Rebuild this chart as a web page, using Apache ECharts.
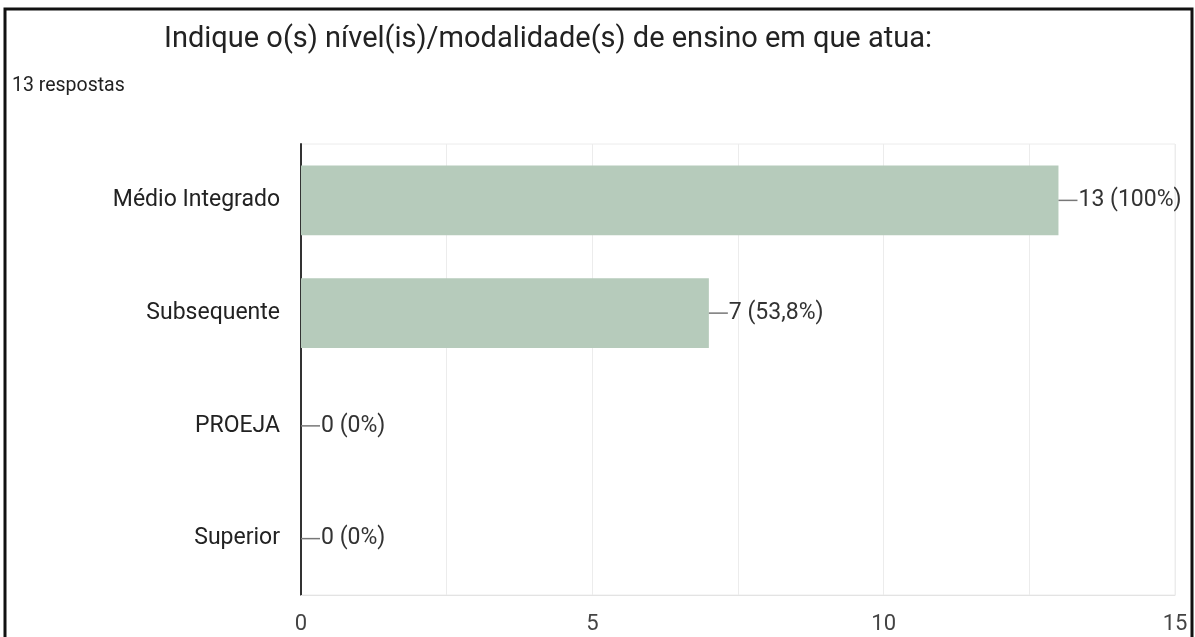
<!DOCTYPE html>
<html>
<head>
<meta charset="utf-8">
<script src="https://cdn.jsdelivr.net/npm/echarts@6/dist/echarts.min.js"></script>
<style>
html,body{margin:0;padding:0;background:#fff;}
#chart{width:1195px;height:637px;}
</style>
</head>
<body>
<div id="chart"></div>
<script>
const titleText = 'Indique o(s) nível(is)/modalidade(s) de ensino em que atua:';
const subtitleText = '13 respostas';
const categories = ['Médio Integrado', 'Subsequente', 'PROEJA', 'Superior'];
const values = [13, 7, 0, 0];
const valueLabels = ['13 (100%)', '7 (53,8%)', '0 (0%)', '0 (0%)'];
const xTickLabels = [0, 5, 10, 15];

const chart = echarts.init(document.getElementById('chart'));
const FONT = 'Roboto';
chart.setOption({
  backgroundColor: '#fff',
  animation: false,
  title: [
    { text: titleText, left: 159, top: 20,
      textStyle: { fontFamily: FONT, fontSize: 29, fontWeight: 'normal', color: '#222' } },
    { text: subtitleText, left: 7, top: 71,
      textStyle: { fontFamily: FONT, fontSize: 19.5, fontWeight: 'normal', color: '#222' } }
  ],
  graphic: [
    { type: 'rect', silent: true, z: 100,
      shape: { x: 5, y: 9, width: 1187, height: 700 },
      style: { fill: 'none', stroke: '#111', lineWidth: 3 } }
  ],
  grid: { left: 301, right: 20, top: 144, bottom: 42, show: true, borderColor: '#ececec', borderWidth: 1 },
  xAxis: {
    type: 'value', min: 0, max: 15, interval: 2.5,
    axisLine: { show: true, lineStyle: { color: '#e3e3e3' } },
    axisTick: { show: false },
    splitLine: { show: true, lineStyle: { color: '#ececec' } },
    axisLabel: {
      fontFamily: FONT, fontSize: 22, color: '#444', margin: 18,
      formatter: function (v) { return xTickLabels.indexOf(v) >= 0 ? String(v) : ''; }
    }
  },
  yAxis: {
    type: 'category', inverse: true, data: categories,
    axisLine: { show: true, lineStyle: { color: '#333', width: 2 } },
    axisTick: { show: false },
    axisLabel: { fontFamily: FONT, fontSize: 23, color: '#222', margin: 21, padding: [3, 0, 0, 0] }
  },
  series: [{
    type: 'bar',
    data: values,
    barWidth: '62%',
    itemStyle: { color: '#b6cbbb' },
    label: {
      show: true, position: 'right', distance: 0,
      formatter: function (p) { return '{l|}{v|' + valueLabels[p.dataIndex] + '}'; },
      rich: {
        l: { width: 19, height: 1.5, backgroundColor: '#777' },
        v: { fontFamily: FONT, fontSize: 23, color: '#333', padding: [0, 0, 0, 1] }
      }
    }
  }]
});
</script>
</body>
</html>
